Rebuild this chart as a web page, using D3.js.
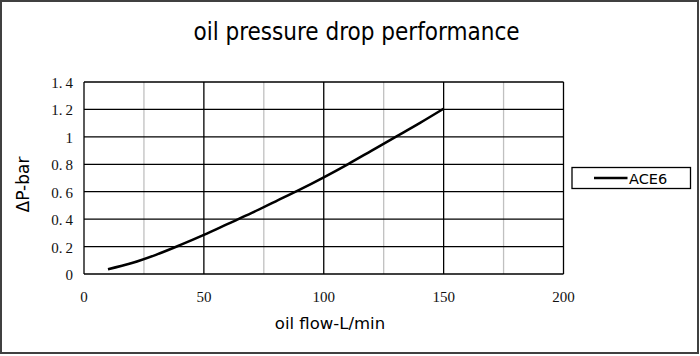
<!DOCTYPE html>
<html><head><meta charset="utf-8">
<script src="https://cdn.jsdelivr.net/npm/d3@7"></script>
<style>body{margin:0;background:#fff}svg{display:block}</style>
</head><body>
<svg id="c" width="700" height="356"></svg>
<script>
const title = "oil pressure drop performance";
const xTitle = "oil flow-L/min";
const yTitle = "ΔP-bar";
const seriesName = "ACE6";
const flow = [10, 20, 30, 40, 50, 60, 70, 80, 90, 100, 110, 120, 130, 140, 150];
const dp = [0.035, 0.08, 0.14, 0.21, 0.285, 0.365, 0.445, 0.53, 0.615, 0.705, 0.8, 0.9, 1.0, 1.1, 1.205];
const xMajor = [0, 50, 100, 150, 200];
const xMinor = [25, 75, 125, 175];
const yTicks = [0, 0.2, 0.4, 0.6, 0.8, 1, 1.2, 1.4];

const svg = d3.select("#c");
const x = d3.scaleLinear().domain([0, 200]).range([84, 563.5]);
const y = d3.scaleLinear().domain([0, 1.4]).range([274, 82]);

svg.append("rect").attr("x", 1).attr("y", 1).attr("width", 697).attr("height", 352)
  .attr("fill", "#fff").attr("stroke", "#404040").attr("stroke-width", 2);

svg.append("text").attr("x", 356.5).attr("y", 39.5).attr("text-anchor", "middle")
  .attr("font-family", "DejaVu Sans Condensed, DejaVu Sans").attr("font-size", 24).attr("fill", "#000").text(title);

const g = svg.append("g");
g.selectAll(".vmin").data(xMinor).join("line")
  .attr("x1", d => x(d)).attr("x2", d => x(d)).attr("y1", y(0)).attr("y2", y(1.4))
  .attr("stroke", "#c0c0c0").attr("stroke-width", 1.3);
g.selectAll(".h").data(yTicks).join("line")
  .attr("x1", x(0)).attr("x2", x(200)).attr("y1", d => y(d)).attr("y2", d => y(d))
  .attr("stroke", "#000").attr("stroke-width", 1.3);
g.selectAll(".vmaj").data(xMajor).join("line")
  .attr("x1", d => x(d)).attr("x2", d => x(d)).attr("y1", y(0)).attr("y2", y(1.4))
  .attr("stroke", "#000").attr("stroke-width", 1.3);

const fmt = d3.format("~g");
g.selectAll(".yl").data(yTicks).join("text")
  .attr("x", 73).attr("y", d => y(d) + 6).attr("text-anchor", "end")
  .attr("font-family", "Liberation Serif").attr("font-size", 15).attr("fill", "#111")
  .each(function(d) {
    const s = fmt(d).split(".");
    const t = d3.select(this);
    if (s.length === 1) { t.text(s[0]); return; }
    t.append("tspan").text(s[0] + ".");
    t.append("tspan").attr("dx", 3).text(s[1]);
  });
g.selectAll(".xl").data(xMajor).join("text")
  .attr("x", d => x(d)).attr("y", 302).attr("text-anchor", "middle")
  .attr("font-family", "Liberation Serif").attr("font-size", 15).attr("fill", "#111")
  .text(d => d);

svg.append("text").attr("x", 330).attr("y", 329).attr("text-anchor", "middle")
  .attr("font-family", "DejaVu Sans").attr("font-size", 16.5).text(xTitle);
svg.append("text").attr("transform", "translate(29,184.5) rotate(-90)").attr("text-anchor", "middle")
  .attr("font-family", "DejaVu Sans").attr("font-size", 17).text(yTitle);

const line = d3.line().x((d, i) => x(flow[i])).y(d => y(d)).curve(d3.curveMonotoneX);
svg.append("path").attr("d", line(dp)).attr("fill", "none").attr("stroke", "#000").attr("stroke-width", 2.5);

const lg = svg.append("g");
lg.append("rect").attr("x", 572).attr("y", 167.5).attr("width", 118.5).attr("height", 21)
  .attr("fill", "#fff").attr("stroke", "#000").attr("stroke-width", 1.3);
lg.append("line").attr("x1", 594).attr("x2", 627.5).attr("y1", 178).attr("y2", 178)
  .attr("stroke", "#000").attr("stroke-width", 2.5);
lg.append("text").attr("x", 629).attr("y", 183.5).attr("font-family", "DejaVu Sans")
  .attr("font-size", 14.5).text(seriesName);
</script>
</body></html>
